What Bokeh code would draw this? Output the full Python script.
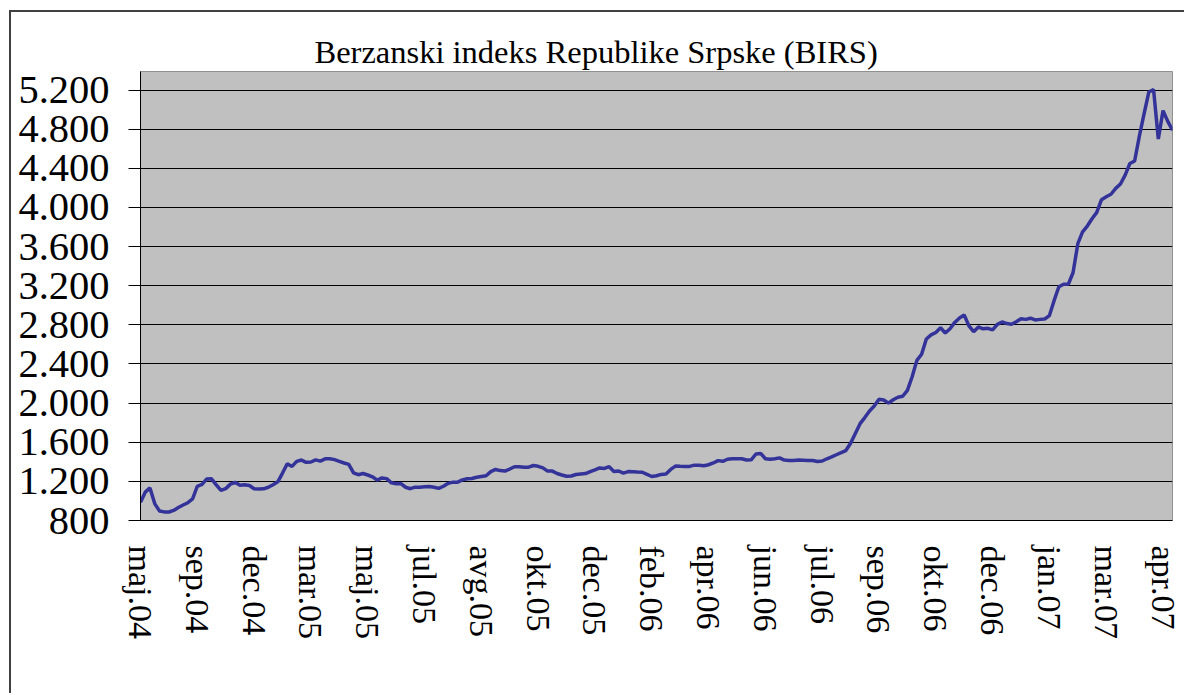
import math
from bokeh.plotting import figure
from bokeh.models import FixedTicker, Title, Range1d
from bokeh.embed import file_html
from bokeh.resources import INLINE

title_text = "Berzanski indeks Republike Srpske (BIRS)"

# category labels, one every 12 observations
x_labels = ["maj.04", "sep.04", "dec.04", "mar.05", "maj.05", "jul.05", "avg.05",
            "okt.05", "dec.05", "feb.06", "apr.06", "jun.06", "jul.06", "sep.06",
            "okt.06", "dec.06", "jan.07", "mar.07", "apr.07"]
label_step = 12

y_ticks = [800, 1200, 1600, 2000, 2400, 2800, 3200, 3600, 4000, 4400, 4800, 5200]
y_tick_labels = ["800", "1.200", "1.600", "2.000", "2.400", "2.800", "3.200",
                 "3.600", "4.000", "4.400", "4.800", "5.200"]

# BIRS index values
birs = [
    987, 1090, 1133, 973, 898, 888, 887, 903, 933, 958,
    982, 1020, 1150, 1170, 1225, 1226, 1165, 1108, 1126, 1172,
    1190, 1160, 1165, 1158, 1124, 1122, 1124, 1140, 1165, 1195,
    1285, 1380, 1353, 1405, 1418, 1395, 1398, 1420, 1407, 1430,
    1432, 1422, 1405, 1388, 1373, 1288, 1268, 1280, 1265, 1247,
    1213, 1235, 1228, 1185, 1175, 1177, 1140, 1125, 1141, 1141,
    1145, 1147, 1140, 1128, 1150, 1180, 1192, 1192, 1215, 1226,
    1230, 1242, 1250, 1258, 1300, 1322, 1310, 1305, 1326, 1350,
    1349, 1344, 1345, 1362, 1354, 1338, 1305, 1305, 1280, 1265,
    1253, 1255, 1270, 1275, 1280, 1300, 1318, 1337, 1332, 1350,
    1302, 1306, 1285, 1300, 1298, 1295, 1293, 1271, 1250, 1258,
    1271, 1276, 1322, 1356, 1354, 1353, 1353, 1366, 1365, 1360,
    1370, 1388, 1412, 1405, 1426, 1431, 1431, 1431, 1418, 1420,
    1480, 1486, 1431, 1426, 1432, 1440, 1418, 1414, 1414, 1419,
    1417, 1414, 1414, 1403, 1408, 1431, 1450, 1472, 1493, 1515,
    1590, 1690, 1790, 1852, 1920, 1970, 2040, 2032, 2000, 2034,
    2060, 2070, 2130, 2270, 2437, 2500, 2655, 2698, 2722, 2770,
    2717, 2760, 2825, 2870, 2900, 2790, 2730, 2778, 2760, 2765,
    2748, 2805, 2829, 2813, 2806, 2832, 2862, 2856, 2868, 2850,
    2856, 2860, 2895, 3050, 3190, 3215, 3215, 3335, 3630, 3750,
    3810, 3885, 3950, 4080, 4110, 4135, 4195, 4240, 4330, 4450,
    4475, 4730, 4960, 5180, 5205, 4700, 4990, 4880, 4790,
]

x = list(range(len(birs)))

p = figure(width=1175, height=683, output_backend="svg", toolbar_location=None,
           x_range=Range1d(0, len(birs) - 1), y_range=Range1d(800, 5390),
           min_border_left=129, min_border_right=14, min_border_top=59,
           min_border_bottom=175)
p.styles = {"border-left": "2px solid #404040", "border-top": "2px solid #404040",
            "margin-left": "9px", "margin-top": "10px"}

p.background_fill_color = "#C0C0C0"
p.border_fill_color = "white"
p.outline_line_color = "#909090"
p.outline_line_width = 1

t = Title(text=title_text, align="left", offset=174, standoff=4,
          text_font="Liberation Serif", text_font_size="32.5px",
          text_font_style="normal", text_color="black")
p.add_layout(t, "above")

p.line(x, birs, line_color="#333399", line_width=3.5)

# y axis
p.yaxis.ticker = FixedTicker(ticks=y_ticks)
p.yaxis.major_label_overrides = {v: s for v, s in zip(y_ticks, y_tick_labels)}
p.yaxis.major_label_text_font = "Liberation Serif"
p.yaxis.major_label_text_font_size = "40.5px"
p.yaxis.major_label_text_color = "black"
p.yaxis.major_tick_out = 12
p.yaxis.major_tick_in = 0
p.yaxis.minor_tick_line_color = None
p.yaxis.major_tick_line_color = "black"
p.yaxis.axis_line_color = "black"
p.yaxis.major_label_standoff = 19

# x axis
x_ticks = [i * label_step for i in range(len(x_labels))]
p.xaxis.ticker = FixedTicker(ticks=x_ticks)
p.xaxis.major_label_overrides = {v: s for v, s in zip(x_ticks, x_labels)}
p.xaxis.major_label_orientation = -math.pi / 2
p.xaxis.major_label_text_font = "Liberation Serif"
p.xaxis.major_label_text_font_size = "34px"
p.xaxis.major_label_text_color = "black"
p.xaxis.major_tick_out = 0
p.xaxis.major_tick_in = 0
p.xaxis.minor_tick_line_color = None
p.xaxis.axis_line_color = "black"
p.xaxis.major_label_standoff = 25

p.xgrid.grid_line_color = None
p.ygrid.ticker = FixedTicker(ticks=y_ticks)
p.ygrid.grid_line_color = "black"
p.ygrid.grid_line_width = 1

open("out.html", "w").write(file_html(p, INLINE))
